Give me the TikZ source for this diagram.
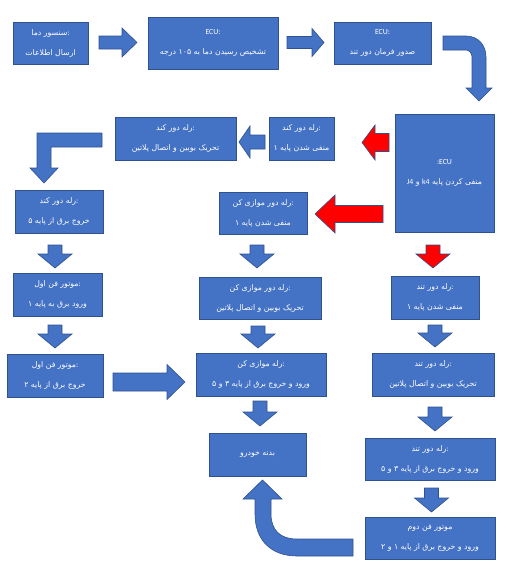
\documentclass[tikz,border=0pt]{standalone}
\usepackage{fontspec}
\setmainfont{Carlito}
\newfontfamily\fa[Script=Arabic]{DejaVu Sans}
\TeXXeTstate=1
\definecolor{boxblue}{HTML}{4472C4}
\definecolor{edgeblue}{HTML}{2F528F}
\definecolor{redarr}{HTML}{FF0000}
\newcommand\RT[1]{{\fa\beginR #1\endR}}
\newcommand\NUM[1]{\beginL #1\endL{}}
\newcommand\LAT[1]{\beginL{\rmfamily #1}\endL{}}
\newcommand\bDown[4]{\filldraw[#4] (#1-7,#2) -- (#1+7,#2) -- (#1+7,#3-14) -- (#1+17,#3-14) -- (#1,#3) -- (#1-17,#3-14) -- (#1-7,#3-14) -- cycle;}
\newcommand\bRight[7]{\filldraw[#7] (#1,#3-#4) -- (#2-#6,#3-#4) -- (#2-#6,#3-#5) -- (#2,#3) -- (#2-#6,#3+#5) -- (#2-#6,#3+#4) -- (#1,#3+#4) -- cycle;}
\newcommand\bLeft[7]{\filldraw[#7] (#1,#3-#4) -- (#2+#6,#3-#4) -- (#2+#6,#3-#5) -- (#2,#3) -- (#2+#6,#3+#5) -- (#2+#6,#3+#4) -- (#1,#3+#4) -- cycle;}
\tikzset{
  box/.style={draw=edgeblue, fill=boxblue, line width=0.8pt, text=white, inner sep=0pt,
    align=center, font=\fontsize{7.8}{20}\selectfont},
  barr/.style={fill=boxblue, draw=edgeblue, line width=0.6pt},
  rarr/.style={fill=redarr, draw=edgeblue, line width=0.6pt},
}
\begin{document}
\begin{tikzpicture}[x=1pt,y=-1pt]
\useasboundingbox (0,0) rectangle (516,562);
% boxes
\node[box, minimum width=75pt, minimum height=42pt] (b1) at (50.5,43) {\RT{سنسور دما}:\\\RT{ارسال اطلاعات}};
\node[box, minimum width=130pt, minimum height=52pt] (b2) at (213,43) {ECU:\\\RT{تشخیص رسیدن دما به \NUM{۱۰۵} درجه}};
\node[box, minimum width=97pt, minimum height=42pt] (b3) at (382.5,43) {ECU:\\\RT{صدور فرمان دور تند}};
\node[box, minimum width=99pt, minimum height=118pt] (b4) at (444.5,173) {:ECU\\\RT{منفی کردن پایه \LAT{k4} و \LAT{J4}}};
\node[box, minimum width=65pt, minimum height=43pt] (b5) at (301.5,138.5) {\RT{رله دور کند}:\\\RT{منفی شدن پایه ۱}};
\node[box, minimum width=121pt, minimum height=43pt] (b6) at (175.5,138.5) {\RT{رله دور کند}:\\\RT{تحریک بوبین و اتصال پلاتین}};
\node[box, minimum width=88pt, minimum height=43pt] (b7) at (59,211.5) {\RT{رله دور کند}:\\\RT{خروج برق از پایه ۵}};
\node[box, minimum width=89pt, minimum height=43pt] (b8) at (57.5,294.5) {\RT{موتور فن اول}:\\\RT{ورود برق به پایه ۱}};
\node[box, minimum width=96pt, minimum height=43pt] (b9) at (55,375.5) {\RT{موتور فن اول}:\\\RT{خروج برق از پایه ۲}};
\node[box, minimum width=88pt, minimum height=42pt] (b10) at (263,213) {\RT{رله دور موازی کن}:\\\RT{منفی شدن پایه ۱}};
\node[box, minimum width=122pt, minimum height=42pt] (b11) at (260,298) {\RT{رله دور موازی کن}:\\\RT{تحریک بوبین و اتصال پلاتین}};
\node[box, minimum width=130pt, minimum height=43pt] (b12) at (261,374.5) {\RT{رله موازی کن}:\\\RT{ورود و خروج برق از پایه ۳ و ۵}};
\node[box, minimum width=97pt, minimum height=43pt] (b13) at (257.5,454.5) {\RT{بدنه خودرو}};
\node[box, minimum width=88pt, minimum height=43pt] (b14) at (435,297.5) {\RT{رله دور تند}:\\\RT{منفی شدن پایه ۱}};
\node[box, minimum width=122pt, minimum height=43pt] (b15) at (433,374.5) {\RT{رله دور تند}:\\\RT{تحریک بوبین و اتصال پلاتین}};
\node[box, minimum width=130pt, minimum height=42pt] (b16) at (430,459) {\RT{رله دور تند}:\\\RT{ورود و خروج برق از پایه ۳ و ۵}};
\node[box, minimum width=130pt, minimum height=42pt] (b17) at (430,538) {\RT{موتور فن دوم}\\\RT{ورود و خروج برق از پایه ۱ و ۲}};
% straight block arrows
\bRight{99}{137}{42.5}{6.5}{14.5}{15}{barr}
\bRight{287}{324}{42.5}{6}{14}{12}{barr}
\bRight{113}{185}{382}{9}{17.5}{18}{barr}
\bLeft{265}{239}{142}{7}{16}{11}{barr}
\bLeft{389}{362}{142.5}{9}{17.5}{13}{rarr}
\bLeft{383}{315}{214}{8.5}{19}{20}{rarr}
\bDown{55}{245}{268}{barr}
\bDown{55}{325}{348}{barr}
\bDown{257}{245}{268}{barr}
\bDown{258}{326}{348}{barr}
\bDown{260}{401}{426}{barr}
\bDown{433}{245}{268}{rarr}
\bDown{435}{325}{347}{barr}
\bDown{435}{407}{431}{barr}
\bDown{431.5}{488}{512}{barr}
% bent arrow ECU -> ECU
\filldraw[barr] (443,36) -- (466,36) .. controls (478,36) and (486,45) .. (486,57) -- (486,88) -- (492,88) -- (479,101) -- (466,88) -- (472,88) -- (472,57) .. controls (472,53) and (469,50) .. (466,50) -- (443,50) -- cycle;
% L arrow
\filldraw[barr] (102,133) -- (37,133) -- (37,168) -- (30,168) -- (44,183) -- (58,168) -- (51,168) -- (51,147) -- (102,147) -- cycle;
% U-turn arrow
\filldraw[barr] (353,539) -- (297,539) .. controls (280,539) and (271,530) .. (271,514) -- (271,499) -- (282,499) -- (262.5,480) -- (243,499) -- (255,499) -- (255,514) .. controls (255,541) and (272,556) .. (297,556) -- (353,556) -- cycle;
\end{tikzpicture}
\end{document}
